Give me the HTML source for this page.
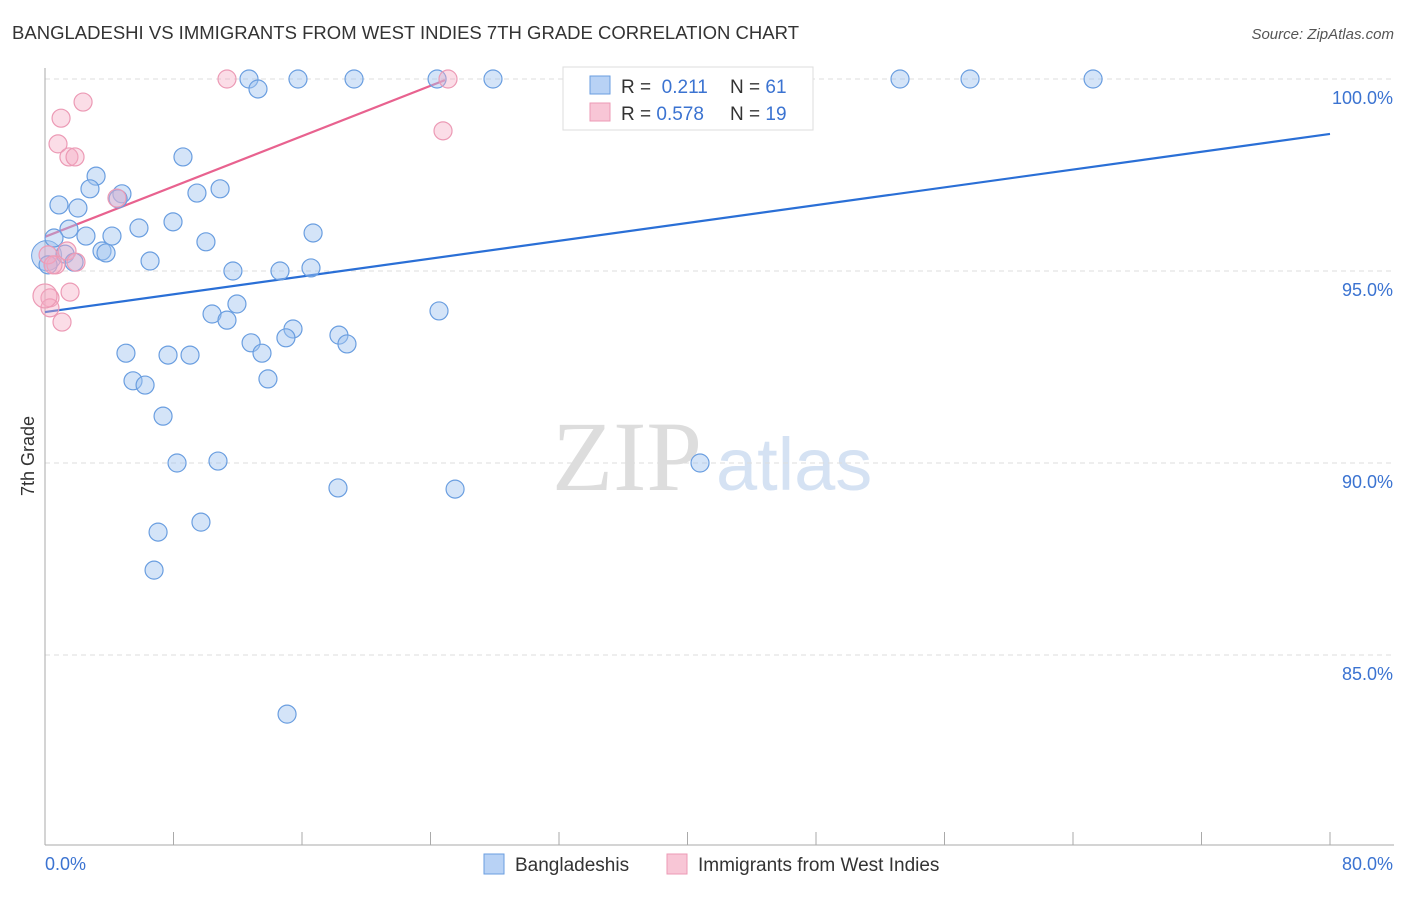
<!DOCTYPE html>
<html><head><meta charset="utf-8"><style>
body{margin:0;background:#fff;font-family:"Liberation Sans",sans-serif;}
</style></head><body>
<svg width="1406" height="892" viewBox="0 0 1406 892">
<text x="12" y="39" font-size="18.5" fill="#333" textLength="787">BANGLADESHI VS IMMIGRANTS FROM WEST INDIES 7TH GRADE CORRELATION CHART</text>
<text x="1394" y="39" font-size="15" fill="#555" font-style="italic" text-anchor="end">Source: ZipAtlas.com</text>
<g><text x="552" y="490" font-size="100" fill="#ddd" font-family="Liberation Serif,serif">ZIP</text><text x="716" y="490" font-size="74" fill="#d5e2f3">atlas</text></g>
<g id="grid"></g><g id="axes"></g><g id="lines"></g><g id="pts"></g>
<text x="34" y="456" font-size="18" fill="#333" transform="rotate(-90 34 456)" text-anchor="middle">7th Grade</text>
<g>
<rect x="563" y="67" width="250" height="63" fill="#fff" stroke="#ddd"/>
<rect x="590" y="76" width="20" height="18" fill="#b8d2f5" stroke="#6a9ee0"/>
<rect x="590" y="103" width="20" height="18" fill="#f8c6d6" stroke="#ec9ab5"/>
<text x="621" y="93" font-size="19" fill="#333">R = <tspan fill="#3b73d1">&#160;0.211</tspan></text>
<text x="730" y="93" font-size="19" fill="#333">N = <tspan fill="#3b73d1">61</tspan></text>
<text x="621" y="120" font-size="19" fill="#333">R = <tspan fill="#3b73d1">0.578</tspan></text>
<text x="730" y="120" font-size="19" fill="#333">N = <tspan fill="#3b73d1">19</tspan></text>
</g>
<g>
<rect x="484" y="854" width="20" height="20" fill="#b8d2f5" stroke="#6a9ee0"/>
<text x="515" y="871" font-size="19" fill="#333">Bangladeshis</text>
<rect x="667" y="854" width="20" height="20" fill="#f8c6d6" stroke="#ec9ab5"/>
<text x="698" y="871" font-size="19" fill="#333">Immigrants from West Indies</text>
</g>
</svg>
<script>
const yTicks=[100,95,90,85];
const yTickLabels=["100.0%","95.0%","90.0%","85.0%"];
const xEndLabels=["0.0%","80.0%"];
const blueX=[12.70,15.75,19.24,24.41,27.89,53.23,57.59,65.25,13.26,8.59,3.18,2.80,4.79,4.55,9.46,10.90,0.87,2.05,7.97,5.85,16.69,1.49,2.55,4.17,0.56,10.02,3.55,3.80,1.25,6.54,1.81,0.19,11.70,14.63,16.56,11.95,10.40,11.33,24.53,15.44,15.00,18.30,12.83,18.80,5.04,7.66,9.03,13.51,5.48,6.23,13.88,7.35,8.22,10.77,40.78,18.24,25.53,9.71,7.04,6.79,15.07];
const blueY=[100,100,100,100,100,100,100,100,99.74,97.97,97.47,97.14,97.01,96.88,97.03,97.14,96.72,96.64,96.28,96.12,95.99,96.09,95.91,95.91,95.86,95.76,95.52,95.47,95.44,95.26,95.23,95.16,95.0,95.0,95.08,94.14,93.88,93.72,93.96,93.49,93.26,93.33,93.13,93.10,92.86,92.81,92.81,92.86,92.14,92.03,92.19,91.22,90.0,90.05,90.0,89.35,89.32,88.46,88.20,87.21,83.46];
const pinkX=[11.33,25.09,2.37,1.00,0.81,1.49,1.87,24.78,4.48,1.37,1.93,0.68,0.19,1.56,0.31,0.31,1.06,0.0,0.5];
const pinkY=[100,100,99.40,98.98,98.31,97.97,97.97,98.65,96.90,95.52,95.23,95.16,95.42,94.45,94.30,94.04,93.67,94.35,95.16];
const blueTrend=[[0,93.93],[80,98.57]];
const pinkTrend=[[0,95.89],[24.9,99.97]];
const NS="http://www.w3.org/2000/svg";
const sx=v=>45+v/80*1285, sy=v=>79+(100-v)/5*192;
function mk(t,a,p){const e=document.createElementNS(NS,t);for(const k in a)e.setAttribute(k,a[k]);p.appendChild(e);return e;}
const grid=document.getElementById('grid'),axes=document.getElementById('axes'),lines=document.getElementById('lines'),pts=document.getElementById('pts');
yTicks.forEach((t,i)=>{
 const l=mk('line',{x1:45,x2:1394,y1:sy(t),y2:sy(t),stroke:'#ddd','stroke-dasharray':'5,4'},grid);
 
 
 const tx=mk('text',{x:1393,y:sy(t)+25,'font-size':18,fill:'#3b73d1','text-anchor':'end'},axes);
 tx.textContent=yTickLabels[i];
 
 
});
const ya=mk('line',{x1:45,x2:45,y1:68,y2:845,stroke:'#aaa'},axes);


const xa=mk('line',{x1:45,x2:1394,y1:845,y2:845,stroke:'#aaa'},axes);


for(let i=1;i<=10;i++){const v=i*8;const t=mk('line',{x1:sx(v),x2:sx(v),y1:832,y2:845,stroke:'#aaa'},axes);
 
 }
[[0,'start',45],[80,'end',1393]].forEach((d,i)=>{const t=mk('text',{x:d[2],y:870,'font-size':18,fill:'#3b73d1','text-anchor':d[1]},axes);t.textContent=xEndLabels[i];
 
 });
function trend(tr,c,n){const l=mk('line',{x1:sx(tr[0][0]),y1:sy(tr[0][1]),x2:sx(tr[1][0]),y2:sy(tr[1][1]),stroke:c,'stroke-width':2.2},lines);
 
 }
trend(blueTrend,'#2a6fd6','bangladeshi-trend-line');
trend(pinkTrend,'#e8628f','west-indies-trend-line');
const bb=mk('circle',{cx:sx(0.1),cy:sy(95.4),r:15,fill:'rgba(150,185,235,0.45)',stroke:'#6a9ee0'},pts);


blueX.forEach((x,i)=>{const c=mk('circle',{cx:sx(x),cy:sy(blueY[i]),r:9,fill:'rgba(160,195,240,0.45)',stroke:'#6a9ee0','stroke-width':1.2},pts);
 
 });
pinkX.forEach((x,i)=>{const c=mk('circle',{cx:sx(x),cy:sy(pinkY[i]),r:(i==17?12:9),fill:'rgba(245,170,195,0.4)',stroke:'#ec9ab5','stroke-width':1.2},pts);
 
 });
</script>
</body></html>
